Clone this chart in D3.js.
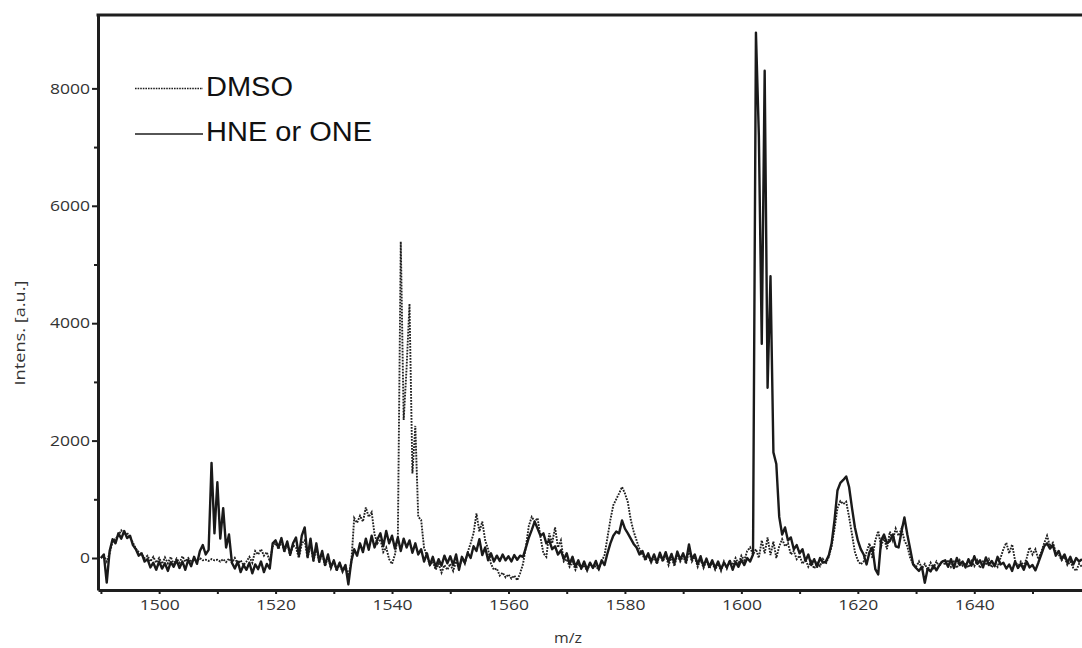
<!DOCTYPE html>
<html>
<head>
<meta charset="utf-8">
<script src="https://cdn.jsdelivr.net/npm/d3@7"></script>
<style>
  body { margin: 0; background: #fff; }
  svg { display: block; }
</style>
</head>
<body>
<div id="chart"></div>
<script>
// m/z sampling grid of the spectrum (0.5 Da steps)
var mz = d3.range(1490, 1658.51, 0.5);

// DMSO trace, intensity [a.u.], one row = 5 m/z units
var dmso = [
  0, 40, -60, 80, 280, 330, 380, 470, 400, 430,
  350, 260, 160, 100, 60, 0, 40, -60, 20, -80,
  0, -100, 10, -90, 20, -110, -10, -80, 30, -60,
  0, -70, -20, -60, 0, -40, -30, -50, -20, -40,
  -30, -60, -20, -70, -10, -80, 0, -100, -40, -120,
  -60, 20, -80, 120, 60, 150, 40, 100, -60, 200,
  250, 150, 300, 100, 250, 40, 220, 180, 0, 250,
  300, 0, 220, -60, 180, -80, 80, -140, 20, -180,
  -60, -220, -100, -240, -140, -300, -80, 680, 600, 720,
  620, 860, 700, 780, 400, 250, 320, 100, 180, -20,
  -100, 60, 350, 5390, 2350, 3240, 4330, 1440, 2250, 700,
  650, 170, 40, -120, -60, -200, -100, -250, -120, -200,
  -100, -220, -60, -180, 0, -100, 100, 250, 420, 760,
  450, 620, 300, 150, -100, -200, -180, -300, -250, -330,
  -280, -350, -300, -380, -260, -100, 200, 550, 700, 620,
  680, 350, 80, 20, 420, 250, 520, 180, 300, -60,
  -20, -150, -60, -200, -100, -180, -120, -220, -90, -160,
  -140, -200, -60, 50, 350, 650, 900, 1000, 1100, 1210,
  1100, 950, 650, 450, 300, 150, 60, -40, 40, -80,
  20, -100, 60, -60, 50, -120, 20, -140, 60, -60,
  30, -100, 120, -60, 20, -150, -20, -170, -40, -180,
  -80, -200, -100, -220, -60, -180, -40, -120, 0, -100,
  40, -40, 120, 180, 60, 150, 0, 300, 80, 350,
  50, 280, 0, 200, 320, 200, 250, 60, 120, -20,
  40, -100, -20, -150, -60, -180, -80, -140, -20, -100,
  20, 200, 500, 850, 970, 920, 960, 700, 400, 100,
  -40, -110, -60, 100, 250, 0, 300, 460, 200, 350,
  150, 450, 300, 500, 380, 500, 300, 200, 0, -100,
  -150, -60, -180, -100, -200, -80, -170, -60, -150, -40,
  -120, -30, -150, -60, -170, -40, -130, -80, -160, -50,
  -140, -40, -170, -60, -120, -20, -160, -80, -150, 0,
  150, 260, 80, 230, -40, -150, -60, -140, 0, 180,
  60, 150, -20, 100, 250, 380, 200, 260, 100, 60,
  -40, 20, -120, -60, -170, -220, -100, -150
];

// HNE or ONE trace
var hne = [
  0, 60, -420, 120, 320, 250, 420, 330, 460, 340,
  380, 220, 150, 40, 80, -60, -20, -160, -80, -200,
  -60, -180, -90, -220, -70, -150, -40, -170, -60, -200,
  -30, -140, 20, -100, 120, 220, 60, 140, 1620, 420,
  1290, 330, 850, 180, 400, -80, -180, -60, -240, -120,
  -200, -80, -260, -110, -190, -60, -240, -100, -180, 250,
  300, 180, 340, 120, 280, 60, 250, 350, 40, 380,
  520, 20, 330, -40, 250, -60, 120, -120, 60, -160,
  -40, -200, -80, -220, -120, -450, -60, 150, 40, 250,
  100, 330, 140, 380, 180, 320, 420, 200, 460, 250,
  380, 160, 350, 120, 330, 180, 300, 90, 250, 60,
  150, -60, 80, -120, 20, -150, -20, -130, 40, -90,
  30, -120, 60, -200, 20, -80, 90, 0, 200, 120,
  320, 50, 180, -40, 80, -60, 40, -50, 60, -40,
  30, -60, 50, -30, 40, 20, 180, 350, 480, 620,
  500, 380, 420, 250, 300, 150, 200, 60, 130, -20,
  80, -100, 20, -150, -40, -180, -60, -200, -80, -170,
  -50, -190, -40, -120, 80, 250, 380, 450, 420, 640,
  500, 420, 330, 240, 180, 60, 120, -20, 80, -60,
  60, -80, 90, -40, 100, -60, 70, -90, 110, -30,
  80, -60, 230, -20, 60, -110, 30, -140, -10, -150,
  -40, -170, -60, -190, -80, -160, -50, -200, -70, -150,
  -30, -120, 0, -60, 60, 8950, 7200, 3650, 8300, 2900,
  4800, 1800, 1600, 700, 400, 520, 300, 350, 150, 220,
  80, 150, -50, 60, -120, -20, -150, 0, -80, -60,
  40, 250, 650, 1150, 1280, 1330, 1390, 1210, 850, 520,
  300, 150, 60, -110, 100, 180, -190, -280, 300, 400,
  250, 290, 400, 200, 180, 450, 690, 400, 150, -110,
  -170, -220, -150, -420, -180, -230, -130, -210, -120, -60,
  -40, -150, -20, -170, 0, -120, -60, -160, -20, -130,
  30, -100, -40, -160, 10, -120, -50, -140, 20, -110,
  -80, -180, -110, -220, -60, -170, -100, -200, -60, -160,
  -120, -210, -80, 60, 200, 250, 160, 220, 40, 120,
  -20, 60, -80, 20, -110, 0, -60, -20
];

var xMajor = [1500, 1520, 1540, 1560, 1580, 1600, 1620, 1640];
var xMinor = [1490, 1510, 1530, 1550, 1570, 1590, 1610, 1630, 1650];
var yMajor = [0, 2000, 4000, 6000, 8000];
var yMinor = [1000, 3000, 5000, 7000];
var legendNames = ["DMSO", "HNE or ONE"];

// plot box (window.top is reserved, so keep these in an object)
var W = 1082, H = 648;
var box = {left: 98, right: 1082, top: 15, bottom: 590};

var x = d3.scaleLinear().domain([1489.5, 1658.5]).range([box.left, box.right]);
var y = d3.scaleLinear().domain([-545, 9250]).range([box.bottom, box.top]);

var svg = d3.select("#chart").append("svg")
    .attr("width", W)
    .attr("height", H);

svg.append("clipPath").attr("id", "plot")
  .append("rect")
    .attr("x", box.left).attr("y", box.top)
    .attr("width", box.right - box.left).attr("height", box.bottom - box.top);

// traces
var line = d3.line()
    .x(function(d) { return x(d[0]); })
    .y(function(d) { return y(d[1]); });

var dmsoPts = mz.map(function(m, i) { return [m, dmso[i]]; });
var hnePts = mz.map(function(m, i) { return [m, hne[i]]; });

var g = svg.append("g").attr("clip-path", "url(#plot)");

g.append("path")
    .datum(dmsoPts)
    .attr("fill", "none")
    .attr("stroke", "#222")
    .attr("stroke-width", 1.9)
    .attr("stroke-dasharray", "1.8,1.2")
    .attr("d", line);

g.append("path")
    .datum(hnePts)
    .attr("fill", "none")
    .attr("stroke", "#1a1a1a")
    .attr("stroke-width", 2.4)
    .attr("stroke-linejoin", "round")
    .attr("d", line);

// axes
var labelFont = "'Open Sans', sans-serif";
var fmt = d3.format("d");

svg.append("g")
    .attr("transform", "translate(" + box.left + ",0)")
    .call(d3.axisLeft(y).tickValues(yMajor).tickFormat(fmt).tickSize(6).tickSizeOuter(0).tickPadding(2));
svg.append("g")
    .attr("transform", "translate(" + box.left + ",0)")
    .call(d3.axisLeft(y).tickValues(yMinor).tickSize(4).tickSizeOuter(0).tickFormat(""))
    .select(".domain").remove();

svg.append("g")
    .attr("transform", "translate(0," + box.bottom + ")")
    .call(d3.axisBottom(x).tickValues(xMajor).tickFormat(fmt).tickSize(4).tickSizeOuter(0).tickPadding(6));
svg.append("g")
    .attr("transform", "translate(0," + box.bottom + ")")
    .call(d3.axisBottom(x).tickValues(xMinor).tickSize(4).tickSizeOuter(0).tickFormat(""))
    .select(".domain").remove();

svg.selectAll(".domain").attr("stroke", "#1e1e1e").attr("stroke-width", 3);
svg.selectAll(".tick line").attr("stroke", "#1e1e1e").attr("stroke-width", 2);
svg.selectAll(".tick text")
    .filter(function(d) { return this.textContent != ""; })
    .attr("fill", "#333")
    .style("font-family", labelFont)
    .style("font-size", "14.5px")
    .attr("lengthAdjust", "spacingAndGlyphs")
    .attr("textLength", function(d) { return fmt(d).length * 10; });

// top frame line
svg.append("line")
    .attr("x1", box.left - 1.5).attr("x2", box.right)
    .attr("y1", box.top).attr("y2", box.top)
    .attr("stroke", "#1e1e1e").attr("stroke-width", 3);

// axis titles
svg.append("text")
    .attr("transform", "translate(25,333) rotate(-90)")
    .attr("text-anchor", "middle")
    .attr("fill", "#333")
    .style("font-family", labelFont)
    .style("font-size", "15px")
    .attr("textLength", 105)
    .attr("lengthAdjust", "spacingAndGlyphs")
    .text("Intens. [a.u.]");

svg.append("text")
    .attr("x", 568).attr("y", 643)
    .attr("text-anchor", "middle")
    .attr("fill", "#333")
    .style("font-family", labelFont)
    .style("font-size", "15px")
    .attr("textLength", 28)
    .attr("lengthAdjust", "spacingAndGlyphs")
    .text("m/z");

// legend
var legend = svg.append("g")
  .selectAll("g")
  .data(legendNames)
  .enter().append("g")
    .attr("transform", function(d, i) { return "translate(135," + (88.5 + i * 45.5) + ")"; });

legend.append("line")
    .attr("x1", 0).attr("x2", 68)
    .attr("stroke", "#1e1e1e")
    .attr("stroke-width", function(d, i) { return i == 0 ? 1.5 : 1.7; })
    .attr("stroke-dasharray", function(d, i) { return i == 0 ? "1.6,1" : null; });

legend.append("text")
    .attr("x", 71)
    .attr("y", function(d, i) { return i == 0 ? 7.5 : 6.5; })
    .attr("fill", "#111")
    .style("font-family", "'Liberation Sans', Arial, sans-serif")
    .style("font-size", "27px")
    .attr("textLength", function(d, i) { return i == 0 ? 87 : 166; })
    .attr("lengthAdjust", "spacingAndGlyphs")
    .text(function(d) { return d; });
</script>
</body>
</html>
